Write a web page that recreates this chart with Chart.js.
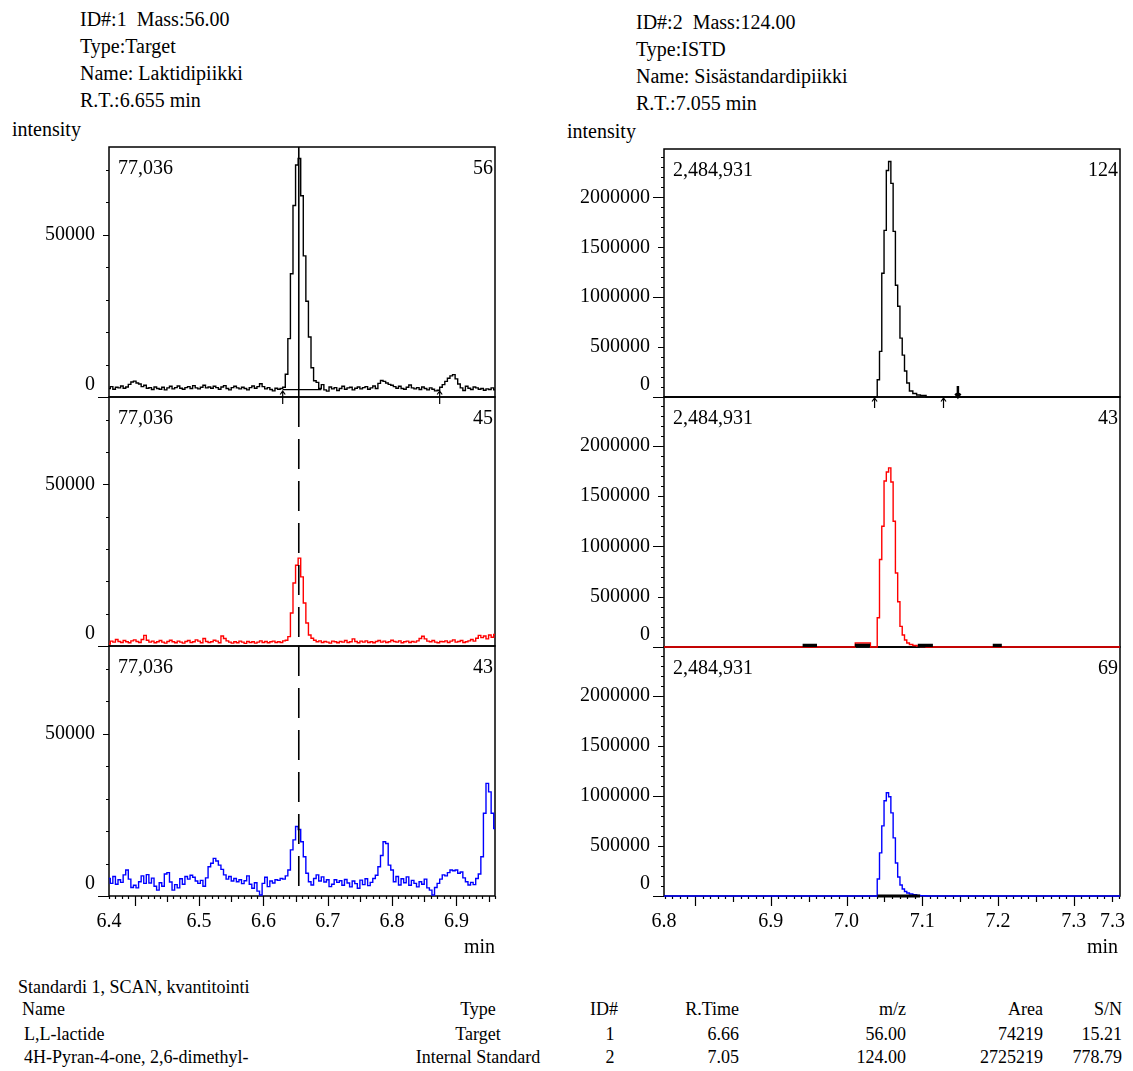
<!DOCTYPE html>
<html>
<head>
<meta charset="utf-8">
<title>Standardi 1, SCAN, kvantitointi</title>
<script src="https://cdn.jsdelivr.net/npm/chart.js@4.4.1/dist/chart.umd.min.js"></script>
<style>
  body { margin: 0; background: #fff; }
  #page { position: relative; width: 1133px; height: 1071px; overflow: hidden;
          font-family: "Liberation Serif", "Times New Roman", serif; color: #000; }
  #page span { position: absolute; white-space: pre; }
  #page canvas { position: absolute; }
</style>
</head>
<body>
<div id="page"></div>
<script>
// --- lactide (ID#1), three ion traces on the same scans, intensity counts
const lactideTimes = [
  6.360,6.364,6.368,6.372,6.376,6.380,6.384,6.388,6.392,6.396,
  6.400,6.404,6.408,6.412,6.416,6.420,6.424,6.428,6.432,6.436,
  6.440,6.444,6.448,6.452,6.456,6.460,6.464,6.468,6.472,6.476,
  6.480,6.484,6.488,6.492,6.496,6.500,6.504,6.508,6.512,6.516,
  6.520,6.524,6.528,6.532,6.536,6.540,6.544,6.548,6.552,6.556,
  6.560,6.564,6.568,6.572,6.576,6.580,6.584,6.588,6.592,6.596,
  6.600,6.604,6.608,6.612,6.616,6.620,6.624,6.628,6.632,6.636,
  6.640,6.644,6.648,6.652,6.656,6.660,6.664,6.668,6.672,6.676,
  6.680,6.684,6.688,6.692,6.696,6.700,6.704,6.708,6.712,6.716,
  6.720,6.724,6.728,6.732,6.736,6.740,6.744,6.748,6.752,6.756,
  6.760,6.764,6.768,6.772,6.776,6.780,6.784,6.788,6.792,6.796,
  6.800,6.804,6.808,6.812,6.816,6.820,6.824,6.828,6.832,6.836,
  6.840,6.844,6.848,6.852,6.856,6.860,6.864,6.868,6.872,6.876,
  6.880,6.884,6.888,6.892,6.896,6.900,6.904,6.908,6.912,6.916,
  6.920,6.924,6.928,6.932,6.936,6.940,6.944,6.948,6.952,6.956,
  6.960
]
const lactideMz56 = [
  2600,3200,2400,3000,2800,3400,2700,3100,3900,4600,
  4900,4300,4000,3200,3600,2700,2900,2300,3100,2600,
  2400,3000,2200,2800,3300,2500,2900,3400,2700,2400,
  2900,3200,2600,3500,2800,2500,3000,3600,2800,3100,
  2700,3300,2900,2400,3100,3500,2600,2200,2900,3300,
  2800,2500,3000,2600,2200,2900,3400,2700,3200,4100,
  3200,2500,2900,2300,1900,2700,2400,2600,3000,7000,
  18000,38000,59000,71500,73500,62000,43500,29500,18500,9000,
  5000,4500,2600,3800,2200,1800,3100,2500,2900,2000,
  2600,3300,2400,2800,3000,2200,2700,3100,2500,2900,
  3200,2400,2800,3400,2600,4200,5100,4800,4300,3900,
  3600,3200,2700,3300,2600,2400,3000,3700,2800,2500,
  2900,2300,3100,2600,2200,2800,2400,1900,2100,3000,
  3800,4800,5800,6500,6900,5600,4000,2800,2000,3300,
  2700,2300,3100,2800,2400,2600,2100,2500,2300,2800,
  2200
]
const lactideMz45 = [
  600,1500,1200,2000,1400,1100,1700,1300,1000,1600,
  1900,1400,1100,2000,3300,1800,1200,1500,1000,1300,
  1700,1200,900,1400,1800,1300,1000,1500,1200,900,
  1400,1700,1100,1300,1900,1500,1000,2300,1400,1100,
  1300,1800,1500,1000,3100,2300,1600,1200,900,1300,
  1000,1500,1200,800,1400,1100,1300,900,1200,1600,
  1100,1400,1000,1300,1500,1100,1300,1100,1600,1800,
  2900,10200,19500,25000,27200,21400,13300,7100,3400,2400,
  1800,1300,1600,1100,1400,1200,900,1500,1300,1000,
  1400,1200,1700,1100,1300,2200,1400,1000,1500,1200,
  1600,1100,1300,1000,1400,1700,1200,1500,1100,1300,
  1800,1400,1200,1600,1000,1300,1500,1100,1400,1200,
  1600,2300,3000,2200,1500,1300,1700,1200,1000,1400,
  1300,1600,1100,1500,1900,1200,1400,1700,1100,1300,
  1600,2000,1500,2400,3300,2600,3100,2200,3400,2700,
  3600
]
const lactideMz43 = [
  5400,3900,6000,3600,5000,4200,6500,8000,5200,2600,
  3300,2500,4400,6200,3900,6600,4000,5500,3000,1800,
  4100,3000,6800,7200,4300,1800,3500,2500,5300,3600,
  6000,5200,6400,5800,4600,3900,4800,3000,5600,9000,
  10100,11600,10800,9500,8200,6500,5200,6000,4600,5400,
  4400,5000,3800,4700,6200,3600,2400,4100,1500,300,
  3900,5800,2900,4600,4000,5000,4800,5400,5200,6200,
  8000,14200,17300,21400,20500,16700,12100,7000,4400,3400,
  5400,6500,4600,5900,4300,5000,2900,3600,5000,4200,
  4700,3300,5100,4000,2800,4600,3800,2400,4900,3500,
  5300,3200,4200,5400,6400,9000,12500,16700,16200,9500,
  8000,4400,6000,3400,5300,4100,5900,3300,4800,3900,
  2800,4400,3600,5200,2500,1800,300,2600,3900,5200,
  6500,6200,7200,8000,7800,8000,7000,7400,5600,4400,
  3400,4200,3500,5400,6800,12100,25500,34700,32100,25500,
  20800
]
const lactideRT = 6.655
const lactideFullScale = 77036
const lactideBase = [6.630, 6.690]     // integration baseline start / end
const lactideBaseLevel = 2300
const lactideMarks = [6.630, 6.874]    // peak start / end markers

// --- internal standard (ID#2)
const istdTimes = [6.759,7.039,7.042,7.045,7.048,7.051,7.054,7.057,7.060,7.063,7.066,
  7.069,7.072,7.075,7.078,7.081,7.085,7.090,7.095,7.100,7.110,7.361]
const istdMz124 = [0,0,173000,457000,1240000,1670000,2270000,2360000,2140000,1660000,1120000,
  910000,590000,420000,260000,140000,60000,35000,20000,15000,0,0]
const istdMz69 = [0,0,170000,430000,700000,950000,1030000,990000,830000,580000,330000,
  190000,110000,70000,45000,30000,20000,12000,6000,3000,0,0]
const istdMz43Times = [6.759,7.010,7.013,7.030,7.033,7.039,7.042,7.045,7.048,7.051,7.054,7.057,7.060,
  7.063,7.066,7.069,7.072,7.075,7.078,7.081,7.085,7.090,7.095,7.100,7.110,7.361]
const istdMz43 = [0,0,40000,40000,0,0,290000,870000,1200000,1650000,1740000,1780000,1640000,
  1250000,735000,450000,205000,120000,70000,40000,25000,15000,10000,5000,0,0]
const istdFullScale = 2484931
const istdBase = [7.041, 7.097]
const istdBitsStart = [6.942, 7.011, 7.094, 7.193]
const istdBitsEnd = [6.961, 7.031, 7.114, 7.205]
const istdBitsLevel = 12000
const istdUpMarks = [7.037, 7.128]
const istdDownMarks = [7.147]

// axis labels: first/last entries are the axis ends
const lactideXLabelAt = [6.36, 6.5, 6.6, 6.7, 6.8, 6.9]
const lactideXLabels = ['6.4', '6.5', '6.6', '6.7', '6.8', '6.9']
const istdXLabelAt = [6.759, 6.9, 7.0, 7.1, 7.2, 7.3, 7.361]
const istdXLabels = ['6.8', '6.9', '7.0', '7.1', '7.2', '7.3', '7.3']
const lactideYLabels = [0, 50000]
const istdYLabels = [0, 500000, 1000000, 1500000, 2000000]

const tableRows = [
  ['L,L-lactide', 'Target', '1', '6.66', '56.00', '74219', '15.21'],
  ['4H-Pyran-4-one, 2,6-dimethyl-', 'Internal Standard', '2', '7.05', '124.00', '2725219', '778.79']
]

const page = document.getElementById('page')
const FONT = '"Liberation Serif", "Times New Roman", serif'

function text(str, x, y, align, size) {
  const s = document.createElement('span')
  s.textContent = str
  s.style.fontSize = size + 'px'
  s.style.lineHeight = size + 'px'
  s.style.top = (y - size / 2) + 'px'
  if (align === 'right') s.style.right = (1133 - x) + 'px'
  else if (align === 'center') { s.style.left = x + 'px'; s.style.transform = 'translateX(-50%)' }
  else s.style.left = x + 'px'
  page.appendChild(s)
}

// headers
text('ID#:1  Mass:56.00', 80, 19, 'left', 20)
text('Type:Target', 80, 46, 'left', 20)
text('Name: Laktidipiikki', 80, 73, 'left', 20)
text('R.T.:' + lactideRT.toFixed(3) + ' min', 80, 100, 'left', 20)
text('intensity', 12, 129, 'left', 20)
text('ID#:2  Mass:124.00', 636, 22, 'left', 20)
text('Type:ISTD', 636, 49, 'left', 20)
text('Name: Sisästandardipiikki', 636, 76, 'left', 20)
text('R.T.:7.055 min', 636, 103, 'left', 20)
text('intensity', 567, 131, 'left', 20)

// results table
text('Standardi 1, SCAN, kvantitointi', 18, 987, 'left', 18)
const colX = [22, 478, 610, 739, 906, 1043, 1122]
const colAlign = ['left', 'center', 'center', 'right', 'right', 'right', 'right']
const heads = ['Name', 'Type', 'ID#', 'R.Time', 'm/z', 'Area', 'S/N']
heads.forEach((h, i) => text(h, colX[i] + (i === 2 ? -6 : 0), 1009, colAlign[i], 18))
tableRows.forEach((row, r) => {
  row.forEach((c, i) => text(c, colX[i] + (i === 0 ? 2 : 0), 1034 + r * 23, colAlign[i], 18))
})

const columns = {
  lactide: { x0: 0, width: 560, left: 109, right: 495, min: 6.36, max: 6.96,
    full: lactideFullScale, yMinor: 10000, yMid: 50000, yMajor: 1e9,
    yLabels: lactideYLabels, xLabelAt: lactideXLabelAt, xLabels: lactideXLabels },
  istd: { x0: 560, width: 573, left: 664, right: 1120, min: 6.759, max: 7.361,
    full: istdFullScale, yMinor: 100000, yMid: 500000, yMajor: 1000000,
    yLabels: istdYLabels, xLabelAt: istdXLabelAt, xLabels: istdXLabels }
}

function arrow(ctx, x, yFrom, yTo, w) {
  const dir = yTo < yFrom ? -1 : 1
  ctx.lineWidth = w
  ctx.beginPath()
  ctx.moveTo(x, yFrom); ctx.lineTo(x, yTo)
  ctx.moveTo(x - 2.5, yTo - dir * 3.5); ctx.lineTo(x, yTo); ctx.lineTo(x + 2.5, yTo - dir * 3.5)
  ctx.stroke()
}

function framePlugin(col, p) {
  return {
    id: 'frame',
    beforeDatasetsDraw(chart) {
      const { ctx, chartArea: a, scales: { x, y } } = chart
      ctx.save()
      ctx.strokeStyle = '#000'
      ctx.fillStyle = '#000'
      ctx.lineWidth = 1.5
      ctx.strokeRect(a.left, a.top, a.right - a.left, a.bottom - a.top)

      // intensity ticks
      ctx.lineWidth = 1.2
      ctx.beginPath()
      for (let v = 0; v <= col.full; v += col.yMinor) {
        const len = v === 0 ? 11 : v % col.yMajor === 0 ? 11 : v % col.yMid === 0 ? 6 : 3
        const py = Math.round(y.getPixelForValue(v)) + 0.5
        ctx.moveTo(a.left - len, py); ctx.lineTo(a.left, py)
      }
      ctx.stroke()

      ctx.font = '20px ' + FONT
      ctx.textBaseline = 'middle'
      ctx.textAlign = 'right'
      col.yLabels.forEach(v => {
        const py = y.getPixelForValue(v) - (v === 0 ? 12 : 0)
        ctx.fillText(String(v), a.left - 14, py)
      })

      ctx.textAlign = 'left'
      ctx.fillText(col.full.toLocaleString('en-US'), a.left + 9, a.top + 22)
      ctx.textAlign = 'right'
      ctx.fillText(p.mass, a.right - 2, a.top + 22)

      if (p.last) {
        ctx.lineWidth = 1.2
        ctx.beginPath()
        for (let k = Math.ceil(col.min * 100); k <= Math.floor(col.max * 100); k++) {
          const len = k % 10 === 0 ? 10 : k % 5 === 0 ? 6 : 3
          const px = Math.round(x.getPixelForValue(k / 100)) + 0.5
          ctx.moveTo(px, a.bottom); ctx.lineTo(px, a.bottom + len)
        }
        ctx.stroke()
        col.xLabelAt.forEach((v, i) => {
          let px = x.getPixelForValue(v)
          ctx.textAlign = 'center'
          if (i === col.xLabelAt.length - 1 && v >= col.max) { ctx.textAlign = 'right'; px += 5 }
          ctx.fillText(col.xLabels[i], px, a.bottom + 26)
        })
        ctx.textAlign = 'right'
        ctx.fillText('min', a.right - (col.x0 ? 2 : 0), a.bottom + 52)
      }
      ctx.restore()
    },
    afterDatasetsDraw(chart) {
      const { ctx, scales: { x, y } } = chart
      const y0 = y.getPixelForValue(0)
      ctx.save()
      ctx.strokeStyle = '#000'
      ;(p.upMarks || []).forEach(t => arrow(ctx, x.getPixelForValue(t), y0 + 11, y0 + 1, 1.2))
      ;(p.crossMarks || []).forEach(t => arrow(ctx, x.getPixelForValue(t), y0 + 7, y0 - 6, 1.2))
      ;(p.downMarks || []).forEach(t => arrow(ctx, x.getPixelForValue(t), y0 - 11, y0, 2.5))
      ctx.restore()
    }
  }
}

function points(times, values) {
  return times.map((t, i) => ({ x: t, y: values[i] }))
}

function makePanel(col, p) {
  const padTop = 40, padBottom = p.last ? 80 : 40
  const h = p.bottom - p.top + padTop + padBottom
  const canvas = document.createElement('canvas')
  canvas.width = col.width
  canvas.height = h
  canvas.style.left = col.x0 + 'px'
  canvas.style.top = (p.top - padTop) + 'px'
  // upper panels sit above lower ones so their traces cover the shared border
  canvas.style.zIndex = String(10 - p.row)
  page.appendChild(canvas)

  const datasets = [{
    data: points(p.times, p.values),
    borderColor: p.color, borderWidth: 1.4, stepped: 'middle', order: 2, clip: 3
  }]
  if (p.rt) {
    datasets.push({
      data: [{ x: p.rt, y: col.full }, { x: p.rt, y: 0 }],
      borderColor: '#000', borderWidth: 1.6, borderDash: p.rtDash, order: 0
    })
  }
  ;(p.extra || []).forEach(e => datasets.push(e))

  new Chart(canvas, {
    type: 'line',
    data: { datasets },
    options: {
      responsive: false,
      animation: false,
      events: [],
      layout: { padding: { left: col.left - col.x0, right: col.x0 + col.width - col.right, top: padTop, bottom: padBottom } },
      elements: { point: { radius: 0 }, line: { tension: 0 } },
      plugins: { legend: { display: false }, tooltip: { enabled: false } },
      scales: {
        x: { type: 'linear', min: col.min, max: col.max, display: false },
        y: { type: 'linear', min: 0, max: col.full, display: false }
      }
    },
    plugins: [framePlugin(col, p)]
  })
}

function segments(starts, ends, level) {
  const out = []
  starts.forEach((s, i) => out.push({ x: s, y: level }, { x: ends[i], y: level }, { x: ends[i], y: null }))
  return out
}

const L = columns.lactide, R = columns.istd
makePanel(L, { row: 0, top: 147, bottom: 397, mass: '56', color: '#000', times: lactideTimes, values: lactideMz56,
  rt: lactideRT, rtDash: [], crossMarks: lactideMarks,
  extra: [{ data: segments([lactideBase[0]], [lactideBase[1]], lactideBaseLevel), borderColor: '#000', borderWidth: 1.2, order: 3 }] })
makePanel(L, { row: 1, top: 397, bottom: 646, mass: '45', color: '#ff0000', times: lactideTimes, values: lactideMz45,
  rt: lactideRT, rtDash: [30, 12] })
makePanel(L, { row: 2, top: 646, bottom: 896, mass: '43', color: '#0000ff', times: lactideTimes, values: lactideMz43,
  rt: lactideRT, rtDash: [30, 12], last: true })

makePanel(R, { row: 0, top: 149, bottom: 397, mass: '124', color: '#000', times: istdTimes, values: istdMz124,
  upMarks: istdUpMarks, downMarks: istdDownMarks })
makePanel(R, { row: 1, top: 397, bottom: 647, mass: '43', color: '#ff0000', times: istdMz43Times, values: istdMz43,
  extra: [
    { data: segments(istdBitsStart, istdBitsEnd, istdBitsLevel), borderColor: '#000', borderWidth: 4, order: 1 },
    { data: segments([istdBase[0]], [istdBase[1]], 0), borderColor: '#000', borderWidth: 1.5, order: 3, clip: 3 }
  ] })
makePanel(R, { row: 2, top: 647, bottom: 896, mass: '69', color: '#0000ff', times: istdTimes, values: istdMz69, last: true,
  extra: [{ data: segments([istdBase[0]], [istdBase[1]], 0), borderColor: '#000', borderWidth: 3, order: 1, clip: 3 }] })
</script>
</body>
</html>
